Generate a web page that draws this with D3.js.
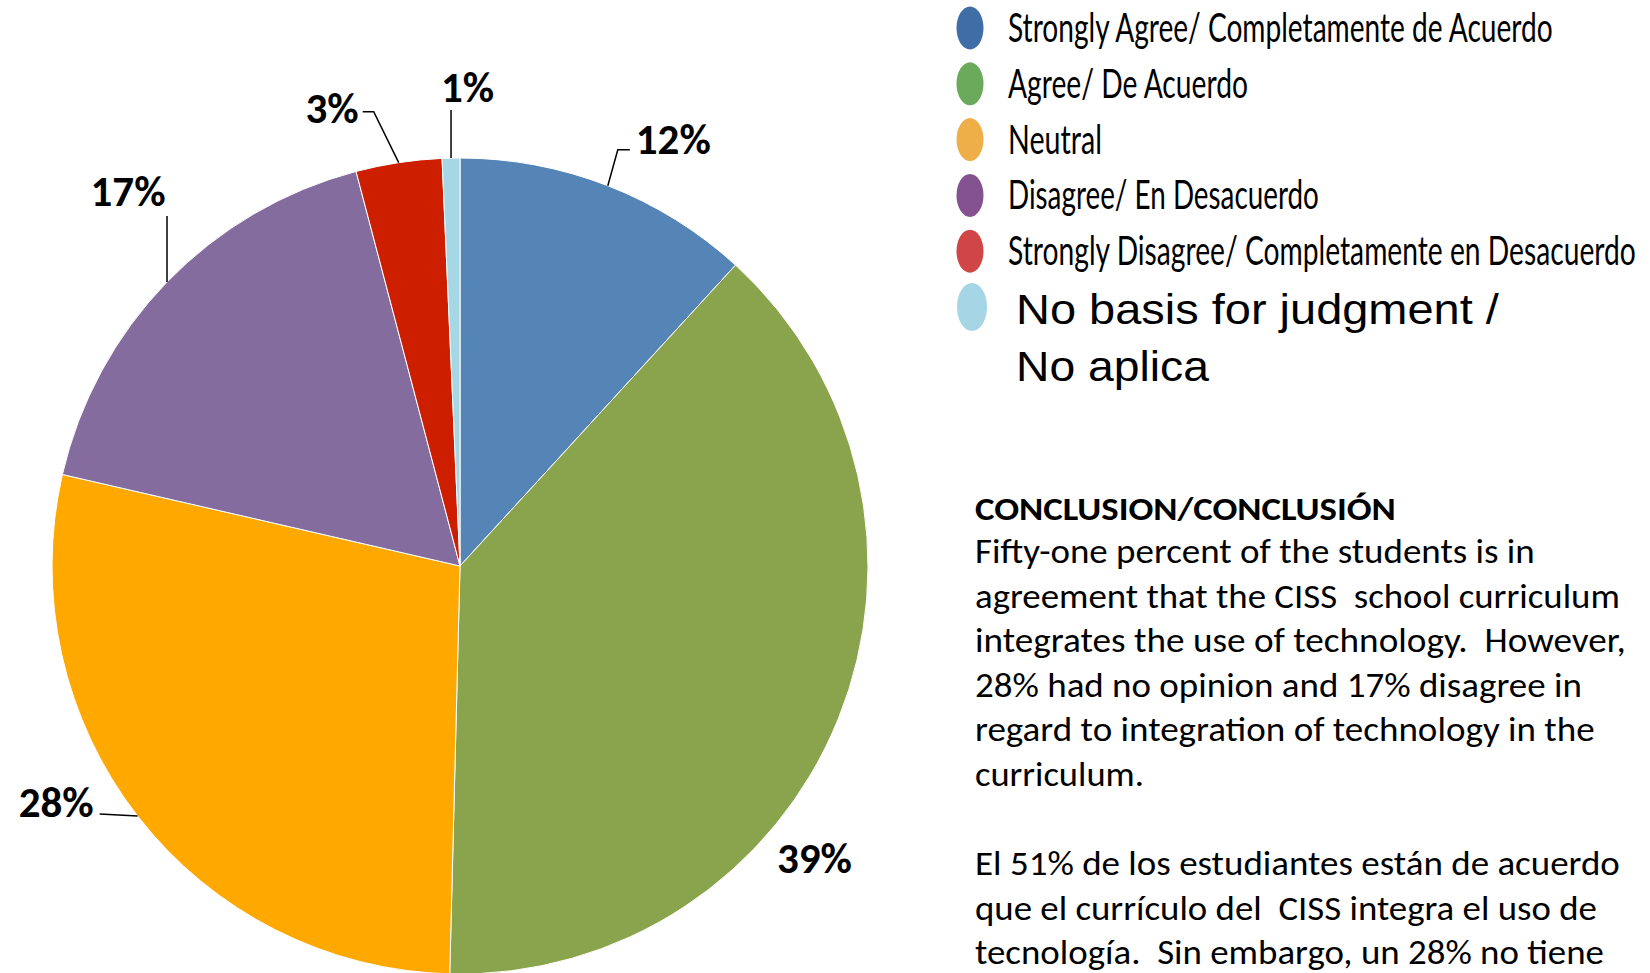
<!DOCTYPE html>
<html>
<head>
<meta charset="utf-8">
<script src="https://cdn.jsdelivr.net/npm/d3@7"></script>
<style>
  html, body { margin: 0; padding: 0; background: #fff; }
  svg { display: block; }
  text { white-space: pre; }
</style>
</head>
<body>
<svg id="chart" width="1650" height="973"></svg>
<script>
// ---- data ----
const categories = [
  "Strongly Agree/ Completamente de Acuerdo",
  "Agree/ De Acuerdo",
  "Neutral",
  "Disagree/ En Desacuerdo",
  "Strongly Disagree/ Completamente en Desacuerdo",
  "No basis for judgment /\nNo aplica"
];
const values = [11.8, 38.6, 28.2, 17.3, 3.4, 0.7];
const sliceColors = ["#5585B6", "#8AA34D", "#FEA800", "#846D9E", "#CD1F00", "#A6D7E4"];
const legendColors = ["#3F6DA5", "#6AAA5A", "#EFAF48", "#84528F", "#D04545", "#A6D6E6"];
const conclusionTitle = "CONCLUSION/CONCLUSIÓN";
const conclusionLines = [
  "Fifty-one percent of the students is in",
  "agreement that the CISS  school curriculum",
  "integrates the use of technology.  However,",
  "28% had no opinion and 17% disagree in",
  "regard to integration of technology in the",
  "curriculum.",
  "",
  "El 51% de los estudiantes están de acuerdo",
  "que el currículo del  CISS integra el uso de",
  "tecnología.  Sin embargo, un 28% no tiene"
];

// ---- layout (positions / styles) ----
const cx = 460, cy = 566, R = 408;
// label placement relative to the slice's edge point: leader points and text anchor
const labelLayout = [
  { leader: [[10, -36], [22, -36]], text: [28, -32], anchor: "start" },
  { leader: [], text: [-24, 154], anchor: "middle" },
  { leader: [[-38, -2]], text: [-44, 1], anchor: "end" },
  { leader: [[0, -66]], text: [-39, -76], anchor: "middle" },
  { leader: [[-25, -51], [-36, -51]], text: [-40, -40], anchor: "end" },
  { leader: [[0, -48]], text: [-10, -56], anchor: "start" }
];
const legendTextWidths = [545, 240, 94, 311, 628];
const conclusionWidths = [560, 645, 651, 607, 620, 169, 0, 645, 622, 629];

const svg = d3.select("#chart");

// fit a text horizontally to a width by scaling it (keeps its real box in place)
function fitText(sel, x, y, width) {
  const natural = sel.node().getComputedTextLength();
  const s = natural > 0 ? width / natural : 1;
  sel.attr("x", 0).attr("y", 0)
     .attr("transform", `translate(${x},${y}) scale(${s},1)`);
}

// ---- pie ----
const pie = d3.pie().sort(null).value(d => d).startAngle(0).endAngle(2 * Math.PI);
const arcs = pie(values);
const arc = d3.arc().innerRadius(0).outerRadius(R);

const g = svg.append("g").attr("transform", `translate(${cx},${cy})`);
g.selectAll("path.slice")
  .data(arcs)
  .join("path")
  .attr("class", "slice")
  .attr("d", arc)
  .attr("fill", (d, i) => sliceColors[i])
  .attr("stroke", "#ffffff")
  .attr("stroke-width", 1);

// ---- data labels with leader lines ----
const lab = g.append("g");
arcs.forEach((d, i) => {
  const mid = (d.startAngle + d.endAngle) / 2;
  const ex = R * Math.sin(mid), ey = -R * Math.cos(mid);
  const L = labelLayout[i];
  if (L.leader.length) {
    const pts = [[ex, ey]].concat(L.leader.map(p => [ex + p[0], ey + p[1]]));
    lab.append("path")
      .attr("d", d3.line()(pts))
      .attr("fill", "none")
      .attr("stroke", "#000")
      .attr("stroke-width", 1.5);
  }
  lab.append("text")
    .attr("x", ex + L.text[0])
    .attr("y", ey + L.text[1])
    .attr("text-anchor", L.anchor)
    .attr("font-family", "Carlito, Lato, 'Open Sans', sans-serif")
    .attr("font-weight", "900")
    .attr("font-size", 43)
    .attr("fill", "#000")
    .text(Math.round(values[i]) + "%");
});

// ---- legend ----
const legend = svg.append("g");
const rowY = d3.scaleLinear().domain([0, 5]).range([28, 307]);
categories.forEach((c, i) => {
  const y = rowY(i);
  const last = i === categories.length - 1;
  legend.append("ellipse")
    .attr("cx", last ? 972 : 970)
    .attr("cy", y)
    .attr("rx", last ? 15 : 13.5)
    .attr("ry", last ? 24 : 21.5)
    .attr("fill", legendColors[i]);
  if (!last) {
    const t = legend.append("text")
      .attr("font-family", "'Liberation Sans Narrow', Lato, sans-serif")
      .attr("font-size", 41)
      .attr("fill", "#000")
      .text(c);
    fitText(t, 1008, y + 14, legendTextWidths[i]);
  } else {
    const parts = c.split("\n");
    const widths = [483, 193];
    parts.forEach((p, k) => {
      const t = legend.append("text")
        .attr("font-family", "'Liberation Sans', Arial, sans-serif")
        .attr("font-size", 43)
        .attr("fill", "#000")
        .text(p);
      fitText(t, 1016, y + 17 + k * 57, widths[k]);
    });
  }
});

// ---- conclusion text ----
const concl = svg.append("g");
const title = concl.append("text")
  .attr("font-family", "Carlito, Lato, 'Open Sans', sans-serif")
  .attr("font-weight", "bold")
  .attr("font-size", 33)
  .attr("fill", "#000")
  .text(conclusionTitle);
fitText(title, 975, 520, 421);
conclusionLines.forEach((line, k) => {
  if (!line) return;
  const t = concl.append("text")
    .attr("font-family", "Carlito, Lato, 'Open Sans', sans-serif")
    .attr("font-size", 34)
    .attr("fill", "#000")
    .text(line);
  fitText(t, 975, 563 + k * 44.6, conclusionWidths[k]);
});
</script>
</body>
</html>
